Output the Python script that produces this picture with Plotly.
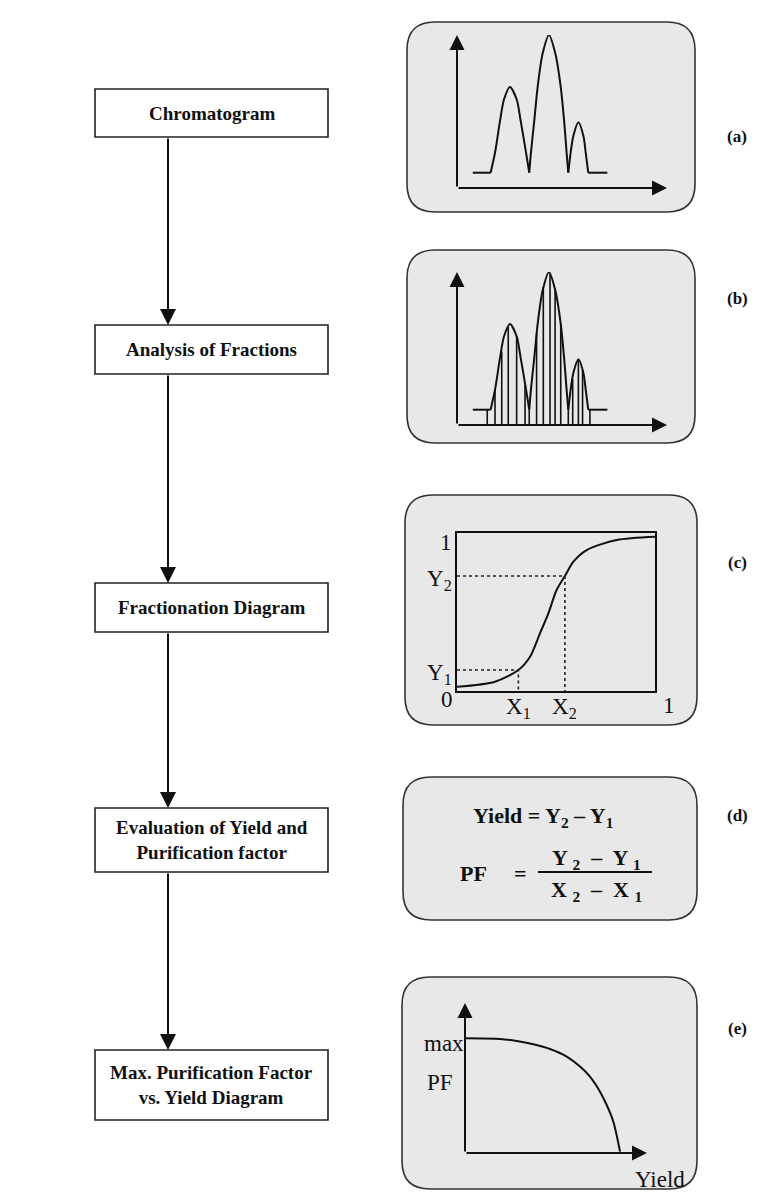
import plotly.graph_objects as go

W, H = 779, 1192

# ---------------- data ----------------
steps = ["Chromatogram", "Analysis of Fractions", "Fractionation Diagram",
         "Evaluation of Yield and<br>Purification factor",
         "Max. Purification Factor<br>vs. Yield Diagram"]
panel_tags = ["(a)", "(b)", "(c)", "(d)", "(e)"]

# chromatogram (time, signal)
chrom_time = [0.75, 1.60, 1.81, 2.05, 2.24, 2.52, 2.84, 3.03, 3.29, 3.44,
              3.52, 3.68, 3.84, 4.08, 4.38, 4.68, 4.94, 5.10, 5.22, 5.30,
              5.41, 5.54, 5.78, 6.02, 6.13, 6.25, 7.16]
chrom_signal = [0.10, 0.10, 0.23, 0.44, 0.58, 0.66, 0.58, 0.44, 0.23, 0.10,
                0.23, 0.44, 0.66, 0.88, 1.00, 0.88, 0.66, 0.44, 0.23, 0.10,
                0.23, 0.34, 0.43, 0.34, 0.23, 0.10, 0.10]

# fraction cut positions and heights
cut_time = [1.44, 1.81, 2.13, 2.44, 2.84, 3.24, 3.44, 3.79, 4.11, 4.43,
            4.67, 4.94, 5.30, 5.51, 5.78, 5.98, 6.33]
cut_signal = [0.10, 0.23, 0.48, 0.64, 0.58, 0.26, 0.10, 0.60, 0.90, 0.99,
              0.88, 0.66, 0.10, 0.30, 0.43, 0.36, 0.10]

# fractionation diagram
frac_x = [0.0, 0.192, 0.31, 0.369, 0.419, 0.461, 0.503, 0.545, 0.588, 0.655, 0.806, 1.0]
frac_y = [0.027, 0.059, 0.133, 0.217, 0.365, 0.49, 0.639, 0.728, 0.819, 0.892, 0.956, 0.977]
X1, X2 = 0.31, 0.545
Y1, Y2 = 0.133, 0.728

# max PF vs yield
pf_yield = [0.0, 0.226, 0.333, 0.441, 0.548, 0.656, 0.742, 0.806, 0.871, 0.914, 0.957, 1.0]
pf_value = [0.997, 0.991, 0.974, 0.945, 0.904, 0.838, 0.751, 0.664, 0.533, 0.417, 0.272, 0.012]

# ---------------- layout constants ----------------
BOX_X0, BOX_X1 = 95, 328
box_top = [89, 325, 583, 808, 1050]
box_bot = [137, 374, 632, 872, 1120]
ARROW_X = 168
panels = [(407, 22, 695, 212), (407, 250, 695, 443), (405, 495, 697, 725),
          (403, 777, 697, 920), (402, 977, 697, 1189)]
tag_y = [136, 298, 562, 815, 1028]
TAG_X = 737
SERIF = "Liberation Serif, Times New Roman, serif"

fig = go.Figure()
shapes, annots = [], []


def rrect(x0, y0, x1, y1, r):
    return (f"M{x0+r},{y0} L{x1-r},{y0} Q{x1},{y0} {x1},{y0+r} L{x1},{y1-r} "
            f"Q{x1},{y1} {x1-r},{y1} L{x0+r},{y1} Q{x0},{y1} {x0},{y1-r} "
            f"L{x0},{y0+r} Q{x0},{y0} {x0+r},{y0} Z")


# left flow boxes
for i, txt in enumerate(steps):
    shapes.append(dict(type="rect", xref="x", yref="y", x0=BOX_X0, x1=BOX_X1,
                       y0=box_top[i], y1=box_bot[i], line=dict(color="#222", width=1.6),
                       fillcolor="white", layer="below"))
    annots.append(dict(x=(BOX_X0 + BOX_X1) / 2, y=(box_top[i] + box_bot[i]) / 2,
                       xref="x", yref="y", text=f"<b>{txt}</b>", showarrow=False,
                       font=dict(family=SERIF, size=19, color="#111"), align="center"))
    if i > 0:
        annots.append(dict(x=ARROW_X, y=box_top[i], ax=ARROW_X, ay=box_bot[i - 1],
                           xref="x", yref="y", axref="x", ayref="y", text="",
                           showarrow=True, arrowhead=2, arrowsize=1.6, arrowwidth=2,
                           arrowcolor="#111"))

# right rounded panels
for i, (x0, y0, x1, y1) in enumerate(panels):
    shapes.append(dict(type="path", xref="x", yref="y", path=rrect(x0, y0, x1, y1, 28),
                       fillcolor="#e8e8e8", line=dict(color="#333", width=1.6), layer="below"))
    annots.append(dict(x=TAG_X, y=tag_y[i], xref="x", yref="y", text=f"<b>{panel_tags[i]}</b>",
                       showarrow=False, font=dict(family=SERIF, size=17, color="#111")))

# main pixel axes
fig.update_layout(
    xaxis=dict(range=[0, W], visible=False, domain=[0, 1], fixedrange=True),
    yaxis=dict(range=[H, 0], visible=False, domain=[0, 1], fixedrange=True),
)
fig.add_trace(go.Scatter(x=[0], y=[0], mode="markers", marker=dict(opacity=0),
                         xaxis="x", yaxis="y", hoverinfo="skip"))


def mini(i, px0, px1, py0, py1, xr, yr, box=False):
    ax = dict(domain=[px0 / W, px1 / W], range=xr, anchor=f"y{i}", fixedrange=True,
              showgrid=False, zeroline=False, showticklabels=False, ticks="")
    ay = dict(domain=[1 - py1 / H, 1 - py0 / H], range=yr, anchor=f"x{i}", fixedrange=True,
              showgrid=False, zeroline=False, showticklabels=False, ticks="")
    if box:
        for a in (ax, ay):
            a.update(showline=True, mirror=True, linecolor="#111", linewidth=2)
    else:
        ax["visible"] = False
        ay["visible"] = False
    fig.update_layout(**{f"xaxis{i}": ax, f"yaxis{i}": ay})


def axis_arrows(i, x_tip, y_tip):
    for (x, y) in [(x_tip, 0), (0, y_tip)]:
        annots.append(dict(x=x, y=y, ax=0, ay=0, xref=f"x{i}", yref=f"y{i}",
                           axref=f"x{i}", ayref=f"y{i}", text="", showarrow=True,
                           arrowhead=2, arrowsize=1.5, arrowwidth=2, arrowcolor="#111"))


SPL = dict(color="#111", width=2, shape="spline", smoothing=0.8)
LIN = dict(color="#111", width=2)


def chromatogram(i):
    # split at baseline points: flat runs drawn straight, each peak as its own smooth arc
    base = min(chrom_signal)
    idx = [k for k, s in enumerate(chrom_signal) if s == base]
    for a, b in zip(idx[:-1], idx[1:]):
        seg_x = chrom_time[a:b + 1]
        seg_y = chrom_signal[a:b + 1]
        fig.add_trace(go.Scatter(x=seg_x, y=seg_y, mode="lines",
                                 line=LIN if b - a == 1 else SPL,
                                 xaxis=f"x{i}", yaxis=f"y{i}", hoverinfo="skip"))


# (a) chromatogram
mini(2, 457, 667, 35, 188, [0, 10], [0, 1])
chromatogram(2)
axis_arrows(2, 10, 1)

# (b) analysis of fractions
mini(3, 457, 667, 272, 425, [0, 10], [0, 1])
chromatogram(3)
cx, cy = [], []
for t, s in zip(cut_time, cut_signal):
    cx += [t, t, None]
    cy += [0, s, None]
fig.add_trace(go.Scatter(x=cx, y=cy, mode="lines", line=dict(color="#111", width=1.6),
                         xaxis="x3", yaxis="y3", hoverinfo="skip"))
axis_arrows(3, 10, 1)

# (c) fractionation diagram
mini(4, 457, 655, 533, 691, [0, 1], [0, 1], box=True)
fig.add_trace(go.Scatter(x=frac_x, y=frac_y, mode="lines", line=SPL,
                         xaxis="x4", yaxis="y4", hoverinfo="skip"))
fig.add_trace(go.Scatter(x=[0, X1, X1, None, 0, X2, X2], y=[Y1, Y1, 0, None, Y2, Y2, 0],
                         mode="lines", line=dict(color="#222", width=1.6, dash="dot"),
                         xaxis="x4", yaxis="y4", hoverinfo="skip"))
LF = dict(family=SERIF, size=23, color="#111")
for lab, yv in [("Y<sub>1</sub>", Y1), ("Y<sub>2</sub>", Y2), ("1", 1.0)]:
    annots.append(dict(x=0, y=yv, xref="x4", yref="y4", text=lab, showarrow=False,
                       xanchor="right", xshift=-3, yshift=-4 if lab != "1" else -9, font=LF))
for lab, xv in [("X<sub>1</sub>", X1), ("X<sub>2</sub>", X2)]:
    annots.append(dict(x=xv, y=0, xref="x4", yref="y4", text=lab, showarrow=False,
                       yanchor="top", yshift=-1, font=LF))
annots.append(dict(x=0, y=0, xref="x4", yref="y4", text="0", showarrow=False,
                   xanchor="right", yanchor="top", xshift=-2, yshift=6, font=LF))
annots.append(dict(x=1, y=0, xref="x4", yref="y4", text="1", showarrow=False,
                   xanchor="left", yanchor="top", xshift=6, yshift=0, font=LF))

# (d) formulas
DF = dict(family=SERIF, size=22, color="#111")
annots.append(dict(x=543, y=817, xref="x", yref="y", showarrow=False, font=DF,
                   text="<b>Yield = Y<sub>2</sub> – Y<sub>1</sub></b>"))
annots.append(dict(x=473, y=873, xref="x", yref="y", showarrow=False, font=DF, text="<b>PF</b>"))
annots.append(dict(x=520, y=873, xref="x", yref="y", showarrow=False, font=DF, text="<b>=</b>"))
annots.append(dict(x=596, y=859, xref="x", yref="y", showarrow=False, font=DF,
                   text="<b>Y <sub>2</sub>  –  Y <sub>1</sub></b>"))
annots.append(dict(x=596, y=891, xref="x", yref="y", showarrow=False, font=DF,
                   text="<b>X <sub>2</sub>  –  X <sub>1</sub></b>"))
shapes.append(dict(type="line", xref="x", yref="y", x0=538, x1=652, y0=872, y1=872,
                   line=dict(color="#111", width=2)))

# (e) max PF vs yield
mini(5, 465, 647, 1003, 1153, [0, 1.174], [0, 1.304])
fig.add_trace(go.Scatter(x=pf_yield, y=pf_value, mode="lines", line=SPL,
                         xaxis="x5", yaxis="y5", hoverinfo="skip"))
axis_arrows(5, 1.174, 1.304)
annots.append(dict(x=0, y=1.0, xref="x5", yref="y5", text="max", showarrow=False,
                   xanchor="right", xshift=1, yshift=-6, font=LF))
annots.append(dict(x=0, y=0.61, xref="x5", yref="y5", text="PF", showarrow=False,
                   xanchor="right", xshift=-10, font=LF))
annots.append(dict(x=660, y=1179, xref="x", yref="y", text="Yield", showarrow=False,
                   font=LF))

fig.update_layout(width=W, height=H, margin=dict(l=0, r=0, t=0, b=0),
                  paper_bgcolor="white", plot_bgcolor="rgba(0,0,0,0)",
                  showlegend=False, shapes=shapes, annotations=annots)

fig.write_html("out.html")
